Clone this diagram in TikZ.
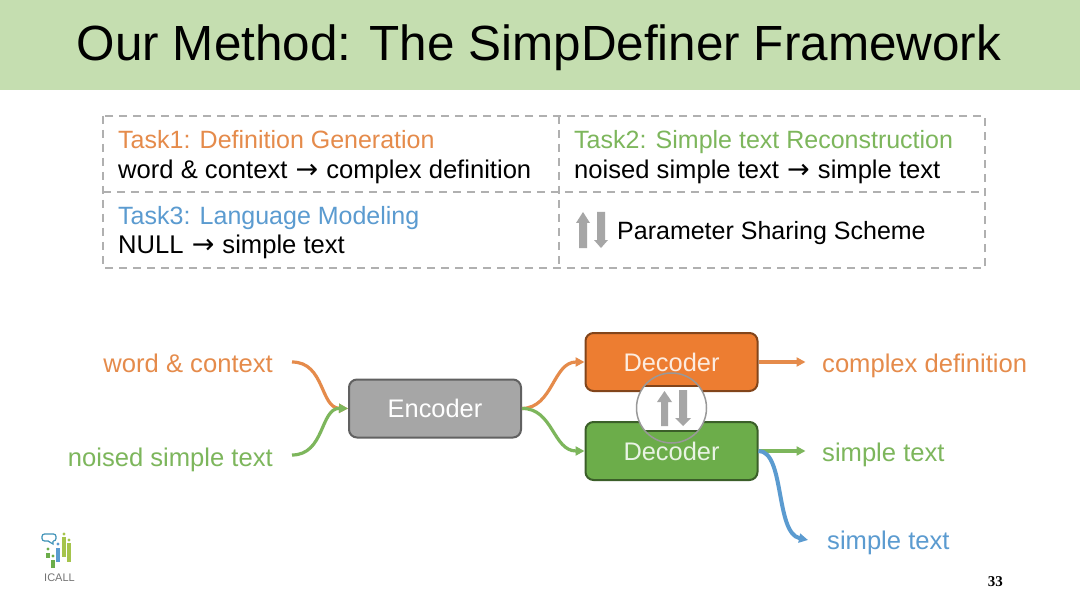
\documentclass[tikz,border=0pt]{standalone}
\usepackage{fontspec}
\setmainfont{Liberation Sans}
\newfontfamily\serifb{Liberation Serif}
\newfontfamily\symb{DejaVu Sans}
\usetikzlibrary{arrows.meta}
\definecolor{hdr}{HTML}{C5DEB0}
\definecolor{org}{HTML}{ED7D31}
\definecolor{orgt}{HTML}{E58B4B}
\definecolor{grn}{HTML}{6CAD4A}
\definecolor{grnt}{HTML}{7DB65C}
\definecolor{blu}{HTML}{5B9BD0}
\definecolor{dashc}{HTML}{B0B0B0}
\definecolor{arrg}{HTML}{A6A6A6}
\definecolor{lime}{HTML}{A5C44C}
\newcommand{\arr}{\hspace{1pt}{\symb\fontsize{27}{27}\selectfont →}\hspace{1pt}}
\tikzset{
  x=1pt,y=-1pt,
  lbl/.style={anchor=base west,inner sep=0pt,font=\fontsize{25}{25}\selectfont},
  lblk/.style={anchor=base west,inner sep=0pt,font=\fontsize{25.6}{25.6}\selectfont},
  diag/.style={inner sep=0pt,font=\fontsize{25.6}{25.6}\selectfont},
  blockb/.style={rounded corners=8pt,line width=2pt,minimum height=58pt,minimum width=172pt,inner sep=0pt,font=\fontsize{25.4}{25.4}\selectfont},
  dashl/.style={draw=dashc,line width=1.6pt,dash pattern=on 8pt off 6pt},
  conn/.style={line width=3.2pt,-{Triangle[length=9pt,width=9pt]}},
}
\begin{document}
\begin{tikzpicture}
\useasboundingbox (0,0) rectangle (1080,607);
\fill[white] (0,0) rectangle (1080,607);
\fill[hdr] (0,0) rectangle (1080,90);
\node[anchor=base,inner sep=0pt,font=\fontsize{49.4}{49.4}\selectfont] (title) at (539,61) {Our Method: The SimpDefiner Framework};

% dashed table
\draw[dashl] (103,116) rectangle (985,268);
\draw[dashl] (103,192) -- (985,192);
\draw[dashl] (559,116) -- (559,268);
\node[lbl,text=orgt] (t1) at (118,149) {Task1: Definition Generation};
\node[lblk] (t1b) at (118,179) {word \& context \arr{} complex definition};
\node[lbl,text=grnt] (t2) at (574,149) {Task2: Simple text Reconstruction};
\node[lblk] (t2b) at (574,179) {noised simple text \arr{} simple text};
\node[lbl,text=blu] (t3) at (118,225) {Task3: Language Modeling};
\node[lblk] (t3b) at (118,254) {NULL \arr{} simple text};
\node[lbl] (t4) at (617,240) {Parameter Sharing Scheme};
% sharing arrows in table
\fill[arrg] (579,248) -- (579,223) -- (576,223) -- (583,212) -- (590,223) -- (587,223) -- (587,248) -- cycle;
\fill[arrg] (597,212) -- (605,212) -- (605,240) -- (608,240) -- (601,248) -- (594,240) -- (597,240) -- cycle;

% blocks
\node[blockb,draw=black!62,fill=arrg,text=white] (enc) at (435,408.5) {\raisebox{-2pt}{Encoder}};
\node[blockb,draw=org!55!black,fill=org,text=white!85!org] (dec1) at (671.5,362) {\raisebox{-2pt}{Decoder}};
\node[blockb,draw=grn!55!black,fill=grn,text=white!85!grn] (dec2) at (671.5,451) {\raisebox{-1pt}{Decoder}};

% labels
\node[diag,anchor=base east,text=orgt] (wc) at (273,372) {word \& context};
\node[diag,anchor=base east,text=grnt] (nst) at (273,466) {noised simple text};
\node[diag,anchor=base west,text=orgt] (cd) at (822,372) {complex definition};
\node[diag,anchor=base west,text=grnt] (st1) at (822,461) {simple text};
\node[diag,anchor=base west,text=blu] (st2) at (827,549) {simple text};

% connectors
\coordinate (wce) at (292,362);
\coordinate (nse) at (292,455);
\coordinate (bl) at (808,540);
\draw[conn,orgt] (wce) .. controls (325,362) and (320,408) .. (enc.west);
\draw[conn,grnt] (nse) .. controls (325,455) and (320,408) .. (enc.west);
\draw[conn,orgt] (enc.east) .. controls (553,408) and (553,362) .. (dec1.west);
\draw[conn,grnt] (enc.east) .. controls (553,408) and (553,451) .. (dec2.west);
\draw[conn,orgt] (dec1.east) -- ++(47,0);
\draw[conn,grnt] (dec2.east) -- ++(47,0);
\draw[conn,blu,line width=4pt] (dec2.east) .. controls (785,451) and (775,533) .. (bl);

% magnifier
\begin{scope}
\clip (671.5,408) circle (35);
\fill[white] (630,386) rectangle (712,431);
\fill[org] (630,370) rectangle (712,385);
\draw[org!55!black,line width=2pt] (630,386) -- (712,386);
\fill[grn] (630,432) rectangle (712,446);
\draw[grn!55!black,line width=2pt] (630,431) -- (712,431);
\end{scope}
\node[circle,draw=black!40,line width=1.5pt,minimum size=70pt,inner sep=0pt] (mag) at (671.5,408) {};
\fill[arrg] (661,426) -- (661,402) -- (657,402) -- (664.5,391) -- (672,402) -- (668,402) -- (668,426) -- cycle;
\fill[arrg] (679,390) -- (687,390) -- (687,418) -- (691,418) -- (683,426) -- (675,418) -- (679,418) -- cycle;

% page number
\node[anchor=base east,inner sep=0pt,font=\serifb\bfseries\fontsize{15}{15}\selectfont] (pg) at (1003,586) {33};

% logo
\draw[blu!70!teal,line width=1.2pt,rounded corners=2.5pt] (42,534) rectangle (56,541);
\fill[white] (48,540) -- (53,540) -- (53,544) -- cycle;
\draw[blu!70!teal,line width=1.2pt] (48,541) -- (53,544) -- (53,541);
\foreach \xx/\ya/\yb/\cc in {48/553/558/grn,53/560/568/grn,58/548/562/blu,64/537/557/lime,69/543/562/lime}{
  \fill[\cc] (\xx-1.7,\ya) rectangle (\xx+1.7,\yb);
}
\foreach \xx/\ya/\cc in {48/549/grn,53/556/grn,58/544/blu,64/534/lime,69/540/lime}{
  \fill[\cc] (\xx,\ya) circle (1.7);
}
\node[anchor=base,inner sep=0pt,font=\fontsize{11}{11}\selectfont,text=black!55] (icall) at (59.5,581) {ICALL};
\end{tikzpicture}
\end{document}
